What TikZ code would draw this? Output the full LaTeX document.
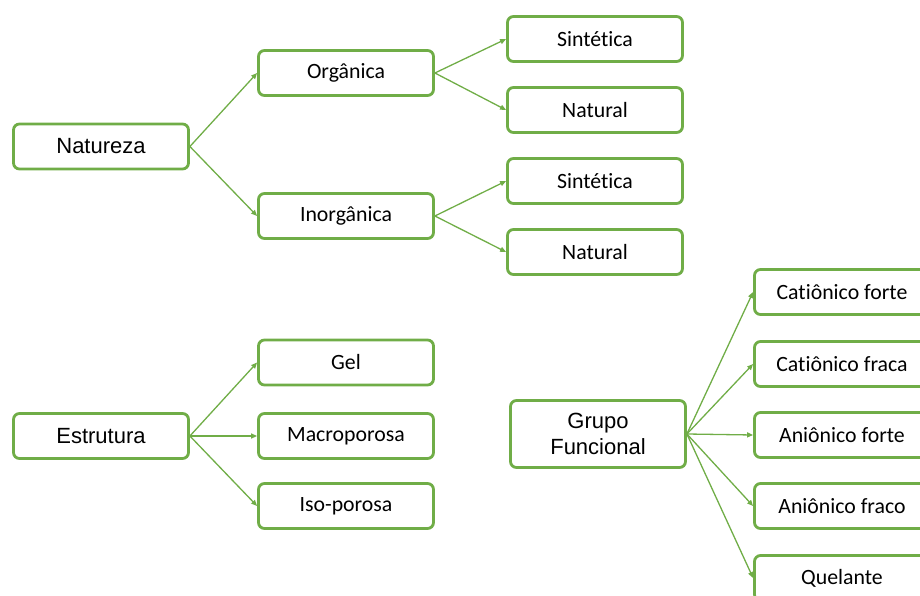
\documentclass[tikz,border=0pt]{standalone}
\usepackage{fontspec}
\setmainfont{Carlito}[Ligatures={NoCommon}]
\newfontfamily\arialf{Liberation Sans}
\usetikzlibrary{arrows.meta}
\definecolor{grn}{HTML}{70AD47}
\begin{document}
\begin{tikzpicture}[x=1pt,y=-1pt,
 box/.style={draw=grn, line width=2.8pt, rounded corners=6pt, minimum width=175pt, minimum height=45pt, inner sep=0pt, font=\fontsize{21.8}{25}\selectfont, align=center, fill=white},
 pbox/.style={box, font=\arialf\fontsize{22}{25.5}\selectfont},
 link/.style={draw=grn, line width=1.3pt, -{Triangle[length=6pt,width=5pt]}}]
\useasboundingbox (0,0) rectangle (920,596);
% Natureza tree
\node[pbox] (nat) at (101,146.5) {Natureza};
\node[box] (org) at (346,73) {Orgânica};
\node[box] (inorg) at (346,216) {Inorgânica};
\node[box] (sin1) at (595,39) {Sintética};
\node[box] (nat1) at (595,110) {Natural};
\node[box] (sin2) at (595,181) {Sintética};
\node[box] (nat2) at (595,252) {Natural};
% Estrutura tree
\node[pbox] (est) at (101,436) {Estrutura};
\node[box] (gel) at (346,362.5) {Gel};
\node[box] (mac) at (346,436) {Macroporosa};
\node[box] (iso) at (346,506) {Iso-porosa};
% Grupo Funcional tree
\node[pbox, minimum height=67pt] (gf) at (598,434) {Grupo\\Funcional};
\node[box] (cf1) at (842,292) {Catiônico forte};
\node[box] (cf2) at (842,364) {Catiônico fraca};
\node[box] (af1) at (842,435) {Aniônico forte};
\node[box] (af2) at (842,506) {Aniônico fraco};
\node[box] (que) at (842,578) {Quelante};
% links
\draw[link] (nat.east) -- (org.west);
\draw[link] (nat.east) -- (inorg.west);
\draw[link] (org.east) -- (sin1.west);
\draw[link] (org.east) -- (nat1.west);
\draw[link] (inorg.east) -- (sin2.west);
\draw[link] (inorg.east) -- (nat2.west);
\draw[link] (est.east) -- (gel.west);
\draw[link] (est.east) -- (mac.west);
\draw[link] (est.east) -- (iso.west);
\draw[link] (gf.east) -- (cf1.west);
\draw[link] (gf.east) -- (cf2.west);
\draw[link] (gf.east) -- (af1.west);
\draw[link] (gf.east) -- (af2.west);
\draw[link] (gf.east) -- (que.west);
\end{tikzpicture}
\end{document}
